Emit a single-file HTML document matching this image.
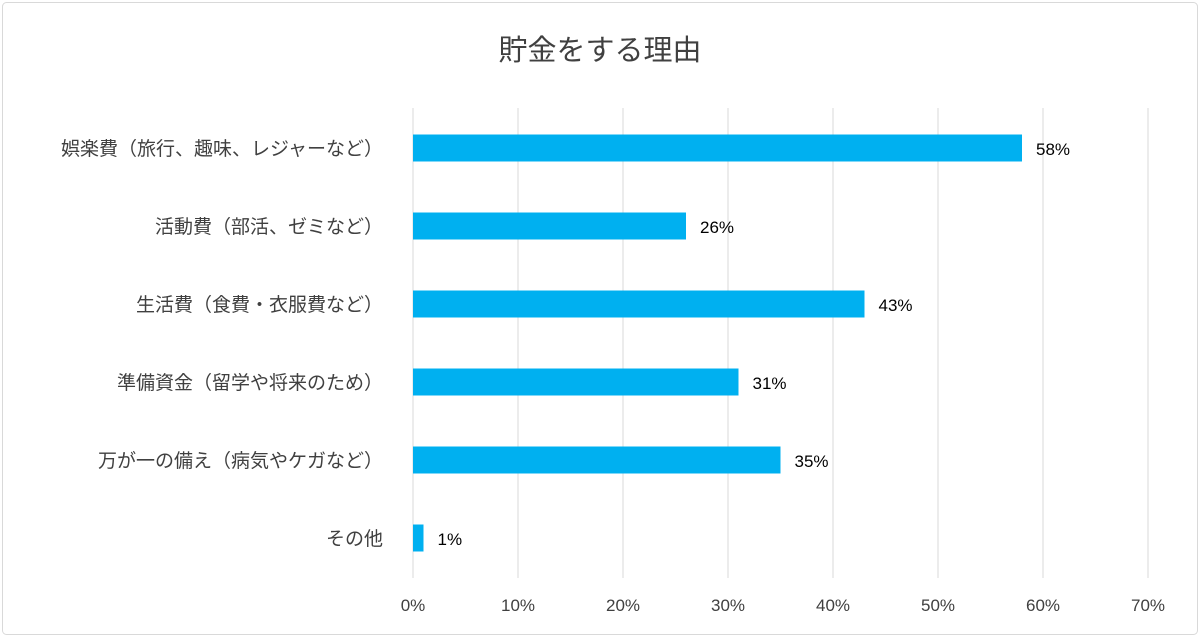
<!DOCTYPE html>
<html><head><meta charset="utf-8">
<style>
html,body{margin:0;padding:0;background:#fff;}
body{width:1200px;height:637px;overflow:hidden;font-family:"Liberation Sans","Noto Sans CJK JP",sans-serif;}
</style></head>
<body>
<svg id="chart" width="1200" height="637" xmlns="http://www.w3.org/2000/svg">
<rect x="2.5" y="2.5" width="1195" height="632" rx="4" fill="#fff" stroke="#d9d9d9" stroke-width="1"/>
<text x="600" y="60" text-anchor="middle" font-size="29" fill="#404040" font-family="Liberation Sans, Noto Sans CJK JP, sans-serif">貯金をする理由</text>
<g id="grid"></g><g id="bars"></g><g id="labels"></g>
</svg>
<script>
const categories=["娯楽費（旅行、趣味、レジャーなど）","活動費（部活、ゼミなど）","生活費（食費・衣服費など）","準備資金（留学や将来のため）","万が一の備え（病気やケガなど）","その他"];
const values=[58,26,43,31,35,1];
const ticks=[0,10,20,30,40,50,60,70];
const x0=413,x1=1148,xmax=70,yTop=108,yBot=578,band=78,bh=27;
const xs=v=>x0+(x1-x0)*v/xmax;
const yc=i=>148+i*band;
const NS="http://www.w3.org/2000/svg";
const svg=document.getElementById('chart');
function mk(t,a,p){const e=document.createElementNS(NS,t);for(const k in a)e.setAttribute(k,a[k]);(p||svg).appendChild(e);return e;}
const g=document.getElementById('grid'),b=document.getElementById('bars'),l=document.getElementById('labels');
ticks.forEach(t=>{
 const ln=mk('line',{x1:xs(t),x2:xs(t),y1:yTop,y2:yBot,stroke:'#d9d9d9','stroke-width':1},g);
 
 
 const tx=mk('text',{x:xs(t),y:611,'text-anchor':'middle','font-size':17,fill:'#404040'},l);
 tx.textContent=t+'%';
 
 
});
categories.forEach((c,i)=>{
 const r=mk('rect',{x:x0,y:yc(i)-bh/2,width:xs(values[i])-x0,height:bh,fill:'#00b0f0'},b);
 
 
 const ct=mk('text',{x:383,y:yc(i)+7,'text-anchor':'end','font-size':19,fill:'#404040'},l);
 ct.textContent=c;
 
 
 const vt=mk('text',{x:xs(values[i])+14,y:yc(i)+7,'font-size':17,fill:'#000'},l);
 vt.textContent=values[i]+'%';
 
 
});
</script>
</body></html>
